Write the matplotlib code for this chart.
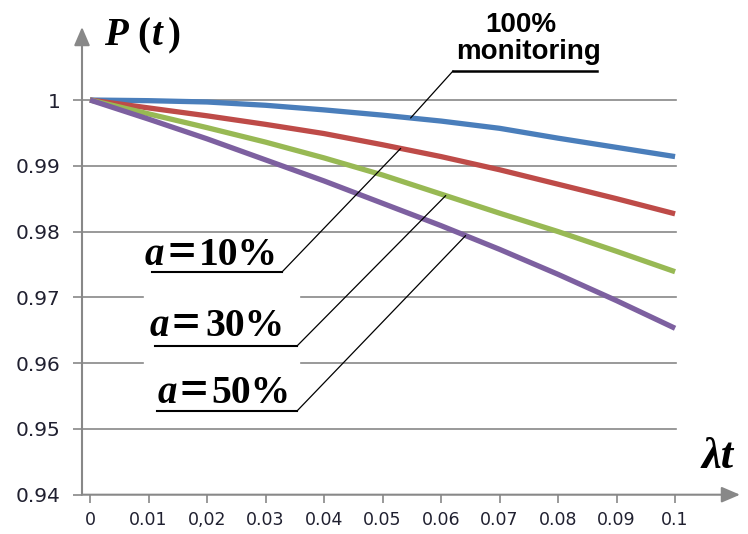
import numpy as np
import matplotlib.pyplot as plt
from matplotlib.lines import Line2D

# data
lam_t = [0, 0.01, 0.02, 0.03, 0.04, 0.05, 0.06, 0.07, 0.08, 0.09, 0.1]
p_full = [1.0, 0.9999, 0.9997, 0.9992, 0.9985, 0.9977, 0.9968, 0.9957, 0.9942, 0.9928, 0.9914]
p_a10 = [1.0, 0.9988, 0.9976, 0.9963, 0.9949, 0.9932, 0.9914, 0.9894, 0.9872, 0.9850, 0.9827]
p_a30 = [1.0, 0.9979, 0.9958, 0.9936, 0.9912, 0.9886, 0.9857, 0.9828, 0.9800, 0.9770, 0.9739]
p_a50 = [1.0, 0.9971, 0.9941, 0.9909, 0.9877, 0.9843, 0.9809, 0.9773, 0.9735, 0.9695, 0.9653]

x_ticks = [0, 0.01, 0.02, 0.03, 0.04, 0.05, 0.06, 0.07, 0.08, 0.09, 0.1]
x_labels = ["0", "0.01", "0,02", "0.03", "0.04", "0.05", "0.06", "0.07", "0.08", "0.09", "0.1"]
y_ticks = [0.94, 0.95, 0.96, 0.97, 0.98, 0.99, 1.0]
y_labels = ["0.94", "0.95", "0.96", "0.97", "0.98", "0.99", "1"]

W, H = 748, 534
fig = plt.figure(figsize=(W / 100, H / 100), dpi=100)
ax = fig.add_axes([82 / W, 1 - 494.7 / H, 658 / W, 467.7 / H])

x0, x1 = -0.00137, 0.1111
y0, y1 = 0.94, 1.0111
ax.set_xlim(x0, x1)
ax.set_ylim(y0, y1)

grey = "#888888"
# horizontal grid lines, broken behind the a=30% / a=50% labels
for y in y_ticks[1:]:
    if y in (0.96, 0.97):
        ax.plot([x0, 0.0090], [y, y], color=grey, lw=1.2, zorder=1)
        ax.plot([0.0360, 0.1001], [y, y], color=grey, lw=1.2, zorder=1)
    else:
        ax.plot([x0, 0.1001], [y, y], color=grey, lw=1.2, zorder=1)

series = [(p_full, "#4a7ebb"), (p_a10, "#be4b48"), (p_a30, "#98b954"), (p_a50, "#7d60a0")]
for vals, col in series:
    ax.plot(lam_t, vals, color=col, lw=3.8, solid_capstyle="butt", zorder=3)

for s in ax.spines.values():
    s.set_visible(False)

# axes with arrows
arrow = dict(arrowstyle="-|>,head_width=0.3,head_length=0.7", color=grey, lw=1.5,
             shrinkA=0, shrinkB=0, mutation_scale=16)
ax.annotate("", xy=(x0, y1), xytext=(x0, y0), arrowprops=arrow, annotation_clip=False)
ax.annotate("", xy=(x1, y0), xytext=(x0, y0), arrowprops=arrow, annotation_clip=False)

ax.set_xticks(x_ticks)
ax.set_xticklabels(x_labels)
ax.set_yticks(y_ticks)
ax.set_yticklabels(y_labels)
ax.tick_params(axis="x", direction="out", length=6, width=1.2, color=grey,
               labelsize=12.5, pad=6, labelcolor="#202030")
ax.tick_params(axis="y", direction="out", length=6.5, width=1.2, color=grey,
               labelsize=14.5, pad=9, labelcolor="#202030")

serif = "Liberation Serif"

def fx(px):
    return px / W

def fy(py):
    return 1 - py / H

def underline(xa, xb, y, lw=1.5):
    fig.add_artist(Line2D([fx(xa), fx(xb)], [fy(y), fy(y)], transform=fig.transFigure,
                          color="black", lw=lw))

def leader(px, py, vals, xd):
    yd = np.interp(xd, lam_t, vals)
    ax.annotate("", xy=(xd, yd), xycoords="data", xytext=(fx(px), fy(py)),
                textcoords="figure fraction",
                arrowprops=dict(arrowstyle="-", color="black", lw=0.9, shrinkA=0, shrinkB=0),
                zorder=4)

def serif_text(px, py, s, size, italic=False):
    fig.text(fx(px), fy(py), s, family=serif, style="italic" if italic else "normal",
             weight="bold", fontsize=size, ha="left", va="baseline")

def a_label(xa, xe, xn, base, num):
    serif_text(xa, base, "a", 28, italic=True)
    serif_text(xe, base + 1, "=", 36)
    serif_text(xn, base, num, 28.5)

# a = ... labels
a_label(145, 167, 199, 265, "10%")
underline(152, 282, 272)
leader(282, 272, p_a10, 0.0531)

a_label(150, 172, 205, 336, "30%")
underline(155, 297, 346)
leader(297, 346, p_a30, 0.0608)

a_label(158, 179, 211, 403, "50%")
underline(157, 297, 411)
leader(297, 411, p_a50, 0.0642)

# 100% monitoring
fig.text(fx(521), fy(25), "100%", family="Liberation Sans", weight="bold",
         fontsize=20, ha="center", va="center")
fig.text(fx(528), fy(52), "monitoring", family="Liberation Sans", weight="bold",
         fontsize=20, ha="center", va="center")
underline(453, 597, 71, lw=1.8)
leader(453, 71, p_full, 0.0548)

# axis titles: P(t) and λt
serif_text(104, 45, "P", 28, italic=True)
serif_text(137, 45, "(", 28)
serif_text(152, 45, "t", 28, italic=True)
serif_text(168, 45, ")", 28)
fig.text(fx(702), fy(457), "λt", family=serif, style="italic", weight="bold",
         fontsize=32, ha="left", va="center")

fig.savefig("out.png", dpi=100)
